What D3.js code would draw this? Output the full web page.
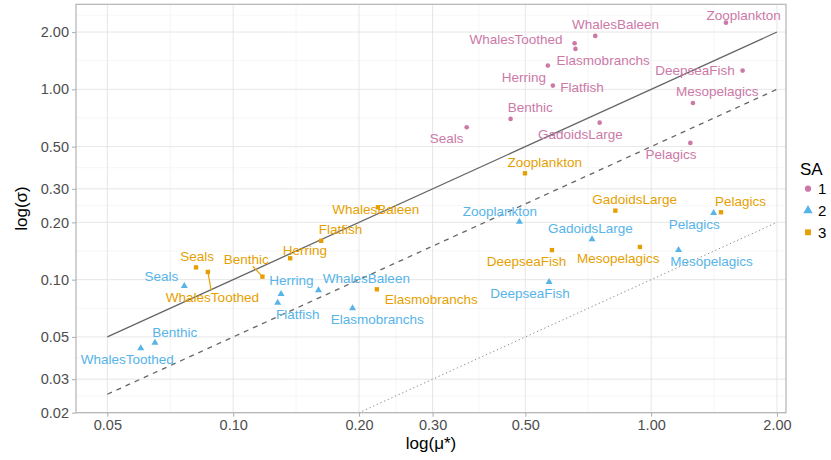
<!DOCTYPE html>
<meta charset="utf-8">
<style>
body { margin: 0; background: #fff; }
svg text { font-family: "Liberation Sans", Arial, sans-serif; }
.grid-major { stroke: #e3e3e3; stroke-width: 0.9px; }
.grid-minor { stroke: #f0f0f0; stroke-width: 0.6px; }
.tick-label { font-size: 14.5px; fill: #4d4d4d; }
.axis-title { font-size: 17px; fill: #000; }
.lbl { font-size: 13.5px; }
</style>
<body>
<script src="https://d3js.org/d3.v7.min.js"></script>
<script>

// species (same order in every SA group)
var species = ["Benthic", "DeepseaFish", "Elasmobranchs", "Flatfish", "GadoidsLarge", "Herring",
               "Mesopelagics", "Pelagics", "Seals", "WhalesBaleen", "WhalesToothed", "Zooplankton"];

// mu* and sigma per SA group
var mu1    = [0.461, 1.655, 0.659, 0.582, 0.753, 0.566, 1.259, 1.241, 0.362, 0.735, 0.656, 1.51];
var sigma1 = [0.699, 1.254, 1.630, 1.046, 0.668, 1.332, 0.848, 0.523, 0.632, 1.908, 1.747, 2.24];
var mu2    = [0.065, 0.570, 0.193, 0.1278, 0.722, 0.1302, 1.163, 1.411, 0.0764, 0.160, 0.0601, 0.484];
var sigma2 = [0.0466, 0.0972, 0.0707, 0.0757, 0.163, 0.0841, 0.143, 0.224, 0.0926, 0.088, 0.0436, 0.2017];
var mu3    = [0.1175, 0.579, 0.2207, 0.1624, 0.821, 0.1369, 0.940, 1.469, 0.0815, 0.222, 0.087, 0.499];
var sigma3 = [0.1037, 0.143, 0.089, 0.160, 0.2305, 0.1295, 0.1485, 0.226, 0.116, 0.240, 0.1098, 0.362];

var groups = ["1", "2", "3"];
var xTicks = [0.05, 0.1, 0.2, 0.3, 0.5, 1, 2];
var yTicks = [0.02, 0.03, 0.05, 0.1, 0.2, 0.3, 0.5, 1, 2];

// reference lines: sigma = k * mu
var refSlopes = [1, 0.5, 0.1];
var refDash = ["none", "5,5", "1.3,2.7"];

// label placement (pixel nudges from the point, like the repelled labels)
var nudge = {
  "1": [[19.7,-11.7],[-47.6,0],[27.7,11],[29.1,1.6],[-19.3,11.3],[-23.9,11.6],
        [24.3,-11.3],[-19.3,11],[-20,11],[20.3,-11.3],[-58.6,-4],[17.6,-7.7]],
  "2": [[19.7,-10.4],[-19,11.3],[24.7,11],[20.1,11.3],[-1.7,-11],[10.2,-14],
        [33,11],[-19.3,11],[-23,-9.3],[47.9,-12],[-13.5,11],[-19.5,-10.7]],
  "3": [[-16.1,-17.4],[-25.5,10.7],[54.3,10],[19.3,-11.4],[19.3,-11.7],[14.7,-8.3],
        [-21.7,11.3],[19.5,-11.3],[1,-11.3],[-2.2,2],[4.5,25.3],[19.8,-11]]
};
var segmented = ["3:Benthic", "3:WhalesToothed"];

var colors = {"1": "#CC79A7", "2": "#56B4E9", "3": "#E69F00"};
var shapes = {"1": d3.symbolCircle, "2": d3.symbolTriangle, "3": d3.symbolSquare};
var sizes = {"1": 17, "2": 21, "3": 19};

var W = 831, H = 460;
var panel = {left: 76, right: 786, top: 4.3, bottom: 412.7};

var x = d3.scaleLog().domain([0.04207, 2.102]).range([panel.left, panel.right]);
var y = d3.scaleLog().domain([0.02, 2.797]).range([panel.bottom, panel.top]);

var svg = d3.select("body").append("svg")
    .attr("width", W).attr("height", H);

svg.append("defs").append("clipPath").attr("id", "clip")
  .append("rect")
    .attr("x", panel.left).attr("y", panel.top)
    .attr("width", panel.right - panel.left)
    .attr("height", panel.bottom - panel.top);

// minor breaks: geometric midpoints between majors
function minors(ticks, extra) {
  var t = ticks.concat(extra), m = [];
  for (var i = 0; i < t.length - 1; i++) m.push(Math.sqrt(t[i] * t[i + 1]));
  return m;
}
var xMinor = minors(xTicks, []).filter(function(v) { return v > x.domain()[0] && v < x.domain()[1]; });
var yMinor = minors(yTicks, [3]).filter(function(v) { return v > y.domain()[0] && v < y.domain()[1]; });

var grid = svg.append("g");
grid.selectAll(".xm").data(xMinor).enter().append("line")
    .attr("class", "grid-minor")
    .attr("x1", x).attr("x2", x).attr("y1", panel.top).attr("y2", panel.bottom);
grid.selectAll(".ym").data(yMinor).enter().append("line")
    .attr("class", "grid-minor")
    .attr("y1", y).attr("y2", y).attr("x1", panel.left).attr("x2", panel.right);
grid.selectAll(".xM").data(xTicks).enter().append("line")
    .attr("class", "grid-major")
    .attr("x1", x).attr("x2", x).attr("y1", panel.top).attr("y2", panel.bottom);
grid.selectAll(".yM").data(yTicks).enter().append("line")
    .attr("class", "grid-major")
    .attr("y1", y).attr("y2", y).attr("x1", panel.left).attr("x2", panel.right);

// reference lines
var line = d3.line().x(function(d) { return x(d[0]); }).y(function(d) { return y(d[1]); });
var xr = [0.05, 2];
svg.append("g").attr("clip-path", "url(#clip)")
  .selectAll("path").data(refSlopes).enter().append("path")
    .attr("d", function(k) { return line(xr.map(function(v) { return [v, v * k]; })); })
    .attr("fill", "none")
    .attr("stroke", function(k, i) { return i == 2 ? "#8a8a8a" : "#666"; })
    .attr("stroke-width", function(k, i) { return i == 2 ? 1 : 1.3; })
    .attr("stroke-dasharray", function(k, i) { return refDash[i]; });

// build rows
var rows = [];
var mus = {"1": mu1, "2": mu2, "3": mu3}, sigs = {"1": sigma1, "2": sigma2, "3": sigma3};
groups.forEach(function(g) {
  species.forEach(function(s, i) {
    rows.push({sa: g, name: s, mu: mus[g][i], sigma: sigs[g][i], dx: nudge[g][i][0], dy: nudge[g][i][1]});
  });
});

// label segments
rows.filter(function(d) { return segmented.indexOf(d.sa + ":" + d.name) >= 0; }).forEach(function(d) {
  var px = x(d.mu), py = y(d.sigma);
  var hh = 7;
  var t = (Math.abs(d.dy) - hh) / Math.abs(d.dy);
  svg.append("line")
      .attr("x1", px).attr("y1", py)
      .attr("x2", px + d.dx * t).attr("y2", py + d.dy * t)
      .attr("stroke", colors[d.sa]).attr("stroke-width", 1.2);
});

// points
svg.append("g").selectAll("path").data(rows).enter().append("path")
    .attr("transform", function(d) { return "translate(" + x(d.mu) + "," + y(d.sigma) + ")"; })
    .attr("d", function(d) { return d3.symbol().type(shapes[d.sa]).size(sizes[d.sa])(); })
    .attr("fill", function(d) { return colors[d.sa]; });

// labels
svg.append("g").selectAll("text").data(rows).enter().append("text")
    .attr("class", "lbl")
    .attr("x", function(d) { return x(d.mu) + d.dx; })
    .attr("y", function(d) { return y(d.sigma) + d.dy; })
    .attr("dy", "0.35em")
    .attr("text-anchor", "middle")
    .attr("fill", function(d) { return colors[d.sa]; })
    .text(function(d) { return d.name; });

// panel border
svg.append("rect")
    .attr("x", panel.left).attr("y", panel.top)
    .attr("width", panel.right - panel.left).attr("height", panel.bottom - panel.top)
    .attr("fill", "none").attr("stroke", "#b3b3b3").attr("stroke-width", 1.2);

// axes
var fmt = d3.format(".2f");
var xAxis = svg.append("g")
    .attr("transform", "translate(0," + panel.bottom + ")")
    .call(d3.axisBottom(x).tickValues(xTicks).tickFormat(fmt).tickSizeInner(4).tickSizeOuter(0).tickPadding(3));
var yAxis = svg.append("g")
    .attr("transform", "translate(" + panel.left + ",0)")
    .call(d3.axisLeft(y).tickValues(yTicks).tickFormat(fmt).tickSizeInner(4).tickSizeOuter(0).tickPadding(3));
[xAxis, yAxis].forEach(function(a) {
  a.select(".domain").remove();
  a.selectAll(".tick line").attr("stroke", "#b3b3b3").attr("stroke-width", 1.1);
  a.selectAll(".tick text").attr("class", "tick-label").attr("font-family", null).attr("font-size", null).attr("fill", null);
});

svg.append("text").attr("class", "axis-title")
    .attr("x", (panel.left + panel.right) / 2).attr("y", 449)
    .attr("text-anchor", "middle")
    .text("log(\u03bc*)");
svg.append("text").attr("class", "axis-title")
    .attr("transform", "translate(27," + ((panel.top + panel.bottom) / 2) + ") rotate(-90)")
    .attr("text-anchor", "middle")
    .text("log(\u03c3)");

// legend
var leg = svg.append("g").attr("transform", "translate(800,0)");
leg.append("text").attr("class", "axis-title").attr("x", 0).attr("y", 175).text("SA");
groups.forEach(function(g, i) {
  var cy = 188.7 + i * 21.8;
  leg.append("path")
      .attr("transform", "translate(8," + cy + ")")
      .attr("d", d3.symbol().type(shapes[g]).size(sizes[g] * 1.8)())
      .attr("fill", colors[g]);
  leg.append("text").attr("x", 18).attr("y", cy).attr("dy", "0.36em")
      .attr("font-size", "15px").attr("fill", "#000").text(g);
});

</script>
</body>
